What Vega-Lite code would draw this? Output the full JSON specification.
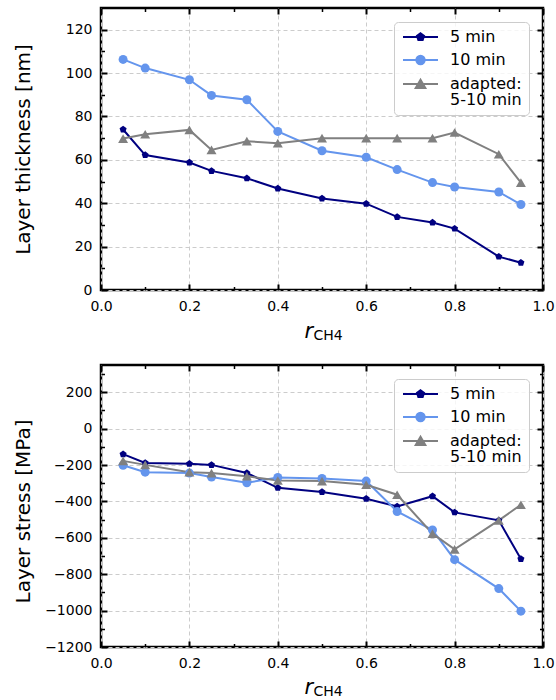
{
  "$schema": "https://vega.github.io/schema/vega-lite/v6.json",
  "padding": {"left": 11, "top": 5, "right": 5, "bottom": 5},
  "spacing": 75,
  "bounds": "flush",
  "config": {
    "font": "DejaVu Sans",
    "view": {"stroke": "black", "strokeWidth": 2.5},
    "axis": {
      "domain": false,
      "labelFont": "DejaVu Sans",
      "labelFontSize": 14,
      "labelColor": "black",
      "labelFlush": false,
      "labelOverlap": false,
      "titleFont": "DejaVu Sans",
      "titleColor": "black",
      "titleFontWeight": "normal",
      "tickColor": "black",
      "grid": false,
      "gridColor": "#cccccc",
      "gridDash": [4, 3],
      "gridWidth": 1
    },
    "legend": {
      "labelFont": "DejaVu Sans",
      "labelFontSize": 16,
      "labelColor": "black",
      "symbolSize": 144,
      "labelOffset": 33,
      "padding": 7,
      "rowPadding": 6,
      "strokeColor": "#cccccc",
      "fillColor": "rgba(255,255,255,0.8)",
      "cornerRadius": 4,
      "orient": "top-right",
      "offset": 14,
      "labelLimit": 300
    }
  },
  "datasets": {
    "thickness": [
      {"s": "5 min", "r": 0.05, "v": 74.0},
      {"s": "5 min", "r": 0.1, "v": 62.2},
      {"s": "5 min", "r": 0.2, "v": 58.8},
      {"s": "5 min", "r": 0.25, "v": 54.9},
      {"s": "5 min", "r": 0.33, "v": 51.5},
      {"s": "5 min", "r": 0.4, "v": 46.8},
      {"s": "5 min", "r": 0.5, "v": 42.2},
      {"s": "5 min", "r": 0.6, "v": 39.8},
      {"s": "5 min", "r": 0.67, "v": 33.7},
      {"s": "5 min", "r": 0.75, "v": 31.1},
      {"s": "5 min", "r": 0.8, "v": 28.3},
      {"s": "5 min", "r": 0.9, "v": 15.4},
      {"s": "5 min", "r": 0.95, "v": 12.6},
      {"s": "10 min", "r": 0.05, "v": 106.3},
      {"s": "10 min", "r": 0.1, "v": 102.3},
      {"s": "10 min", "r": 0.2, "v": 96.9},
      {"s": "10 min", "r": 0.25, "v": 89.7},
      {"s": "10 min", "r": 0.33, "v": 87.7},
      {"s": "10 min", "r": 0.4, "v": 73.1},
      {"s": "10 min", "r": 0.5, "v": 64.2},
      {"s": "10 min", "r": 0.6, "v": 61.2},
      {"s": "10 min", "r": 0.67, "v": 55.5},
      {"s": "10 min", "r": 0.75, "v": 49.5},
      {"s": "10 min", "r": 0.8, "v": 47.5},
      {"s": "10 min", "r": 0.9, "v": 45.2},
      {"s": "10 min", "r": 0.95, "v": 39.4},
      {"s": "adapted: 5-10 min", "r": 0.05, "v": 69.8},
      {"s": "adapted: 5-10 min", "r": 0.1, "v": 71.8},
      {"s": "adapted: 5-10 min", "r": 0.2, "v": 73.8},
      {"s": "adapted: 5-10 min", "r": 0.25, "v": 64.6},
      {"s": "adapted: 5-10 min", "r": 0.33, "v": 68.6},
      {"s": "adapted: 5-10 min", "r": 0.4, "v": 67.7},
      {"s": "adapted: 5-10 min", "r": 0.5, "v": 70.0},
      {"s": "adapted: 5-10 min", "r": 0.6, "v": 70.0},
      {"s": "adapted: 5-10 min", "r": 0.67, "v": 70.0},
      {"s": "adapted: 5-10 min", "r": 0.75, "v": 70.0},
      {"s": "adapted: 5-10 min", "r": 0.8, "v": 72.6},
      {"s": "adapted: 5-10 min", "r": 0.9, "v": 62.6},
      {"s": "adapted: 5-10 min", "r": 0.95, "v": 49.5}
    ],
    "stress": [
      {"s": "5 min", "r": 0.05, "v": -140},
      {"s": "5 min", "r": 0.1, "v": -188},
      {"s": "5 min", "r": 0.2, "v": -193},
      {"s": "5 min", "r": 0.25, "v": -199},
      {"s": "5 min", "r": 0.33, "v": -244},
      {"s": "5 min", "r": 0.4, "v": -325},
      {"s": "5 min", "r": 0.5, "v": -348},
      {"s": "5 min", "r": 0.6, "v": -385},
      {"s": "5 min", "r": 0.67, "v": -427},
      {"s": "5 min", "r": 0.75, "v": -371},
      {"s": "5 min", "r": 0.8, "v": -460},
      {"s": "5 min", "r": 0.9, "v": -504},
      {"s": "5 min", "r": 0.95, "v": -716},
      {"s": "10 min", "r": 0.05, "v": -201},
      {"s": "10 min", "r": 0.1, "v": -239},
      {"s": "10 min", "r": 0.2, "v": -244},
      {"s": "10 min", "r": 0.25, "v": -266},
      {"s": "10 min", "r": 0.33, "v": -297},
      {"s": "10 min", "r": 0.4, "v": -268},
      {"s": "10 min", "r": 0.5, "v": -274},
      {"s": "10 min", "r": 0.6, "v": -288},
      {"s": "10 min", "r": 0.67, "v": -455},
      {"s": "10 min", "r": 0.75, "v": -557},
      {"s": "10 min", "r": 0.8, "v": -720},
      {"s": "10 min", "r": 0.9, "v": -879},
      {"s": "10 min", "r": 0.95, "v": -1003},
      {"s": "adapted: 5-10 min", "r": 0.05, "v": -177},
      {"s": "adapted: 5-10 min", "r": 0.1, "v": -199},
      {"s": "adapted: 5-10 min", "r": 0.2, "v": -239},
      {"s": "adapted: 5-10 min", "r": 0.25, "v": -244},
      {"s": "adapted: 5-10 min", "r": 0.33, "v": -261},
      {"s": "adapted: 5-10 min", "r": 0.4, "v": -285},
      {"s": "adapted: 5-10 min", "r": 0.5, "v": -288},
      {"s": "adapted: 5-10 min", "r": 0.6, "v": -308},
      {"s": "adapted: 5-10 min", "r": 0.67, "v": -363},
      {"s": "adapted: 5-10 min", "r": 0.75, "v": -577},
      {"s": "adapted: 5-10 min", "r": 0.8, "v": -663},
      {"s": "adapted: 5-10 min", "r": 0.9, "v": -504},
      {"s": "adapted: 5-10 min", "r": 0.95, "v": -418}
    ]
  },
  "vconcat": [
    {
      "width": 442,
      "height": 282,
      "data": {"name": "thickness"},
      "resolve": {"axis": {"x": "independent", "y": "independent"}},
      "layer": [
        {
          "mark": {"type": "line", "strokeWidth": 2},
          "encoding": {
            "x": {"field": "r", "type": "quantitative", "scale": {"domain": [0, 1], "nice": false},
              "axis": {"orient": "bottom", "values": [0, 0.2, 0.4, 0.6, 0.8, 1], "format": ".1f", "grid": true, "ticks": true, "tickSize": -6, "tickWidth": 2, "labelPadding": 15,
                "title": "r", "titleFontStyle": "italic", "titleFontSize": 21, "titleX": 203, "titleY": 47, "titleAlign": "left", "titleBaseline": "alphabetic", "titleAngle": 0}},
            "y": {"field": "v", "type": "quantitative", "scale": {"domain": [0, 130], "nice": false},
              "axis": {"orient": "left", "values": [0, 20, 40, 60, 80, 100, 120], "format": "d", "grid": true, "ticks": true, "tickSize": -6, "tickWidth": 2, "labelPadding": 15,
                "title": "Layer thickness [nm]", "titleFontSize": 20, "titleX": -78, "titleY": 141, "titleAngle": -90, "titleAlign": "center", "titleBaseline": "middle"}},
            "color": {"field": "s", "type": "nominal",
              "scale": {"domain": ["5 min", "10 min", "adapted: 5-10 min"], "range": ["#000080", "#6495ED", "#808080"]},
              "legend": {"title": null,
                "labelExpr": "datum.label == 'adapted: 5-10 min' ? ['adapted:', '5-10 min'] : datum.label",
                "encode": {
                  "labels": {"update": {"lineHeight": {"value": 15.5}}},
                  "symbols": {"update": {
                    "shape": {"signal": "datum.value === '5 min' ? 'M-1,0H4.83M1.92,-0.62L2.51,-0.19L2.28,0.5L1.56,0.5L1.33,-0.19Z' : datum.value === '10 min' ? 'M-1,0H4.83M2.62,0A0.7,0.7 0 1,1 1.22,0A0.7,0.7 0 1,1 2.62,0Z' : 'M-1,0H4.83M1.92,-0.7L2.72,0.68L1.12,0.68Z'"},
                    "fill": {"signal": "datum.value === '5 min' ? '#000080' : datum.value === '10 min' ? '#6495ED' : '#808080'"},
                    "stroke": {"signal": "datum.value === '5 min' ? '#000080' : datum.value === '10 min' ? '#6495ED' : '#808080'"},
                    "strokeWidth": {"value": 2},
                    "size": {"value": 144},
                    "opacity": {"value": 1}
                  }}
                }}}
          }
        },
        {
          "transform": [{"filter": "datum.s === '5 min'"}],
          "mark": {"type": "point", "filled": true, "opacity": 1, "shape": "M0,-1L0.951,-0.309L0.588,0.809L-0.588,0.809L-0.951,-0.309Z", "size": 55},
          "encoding": {
            "x": {"field": "r", "type": "quantitative", "scale": {"domain": [0, 1], "nice": false},
              "axis": {"orient": "top", "values": [0, 0.2, 0.4, 0.6, 0.8, 1], "labels": false, "grid": false, "tickSize": -6, "tickWidth": 2, "title": null}},
            "y": {"field": "v", "type": "quantitative", "scale": {"domain": [0, 130], "nice": false},
              "axis": {"orient": "right", "values": [0, 20, 40, 60, 80, 100, 120], "labels": false, "grid": false, "tickSize": -6, "tickWidth": 2, "title": null}},
            "color": {"field": "s", "type": "nominal",
              "scale": {"domain": ["5 min", "10 min", "adapted: 5-10 min"], "range": ["#000080", "#6495ED", "#808080"]}, "legend": null}
          }
        },
        {
          "transform": [{"filter": "datum.s === '10 min'"}],
          "mark": {"type": "point", "filled": true, "opacity": 1, "shape": "circle", "size": 81},
          "encoding": {
            "x": {"field": "r", "type": "quantitative", "scale": {"domain": [0, 1], "nice": false},
              "axis": {"orient": "bottom", "values": [0.1, 0.3, 0.5, 0.7, 0.9], "labels": false, "grid": false, "tickSize": -3.5, "tickWidth": 1.5,
                "title": "CH4", "titleFontSize": 14, "titleX": 212, "titleY": 49.5, "titleAlign": "left", "titleBaseline": "alphabetic", "titleAngle": 0}},
            "y": {"field": "v", "type": "quantitative", "scale": {"domain": [0, 130], "nice": false},
              "axis": {"orient": "left", "values": [10, 30, 50, 70, 90, 110], "labels": false, "grid": false, "tickSize": -3.5, "tickWidth": 1.5, "title": null}},
            "color": {"field": "s", "type": "nominal",
              "scale": {"domain": ["5 min", "10 min", "adapted: 5-10 min"], "range": ["#000080", "#6495ED", "#808080"]}, "legend": null}
          }
        },
        {
          "transform": [{"filter": "datum.s === 'adapted: 5-10 min'"}],
          "mark": {"type": "point", "filled": true, "opacity": 1, "shape": "triangle-up", "size": 100},
          "encoding": {
            "x": {"field": "r", "type": "quantitative", "scale": {"domain": [0, 1], "nice": false},
              "axis": {"orient": "top", "values": [0.1, 0.3, 0.5, 0.7, 0.9], "labels": false, "grid": false, "tickSize": -3.5, "tickWidth": 1.5, "title": null}},
            "y": {"field": "v", "type": "quantitative", "scale": {"domain": [0, 130], "nice": false},
              "axis": {"orient": "right", "values": [10, 30, 50, 70, 90, 110], "labels": false, "grid": false, "tickSize": -3.5, "tickWidth": 1.5, "title": null}},
            "color": {"field": "s", "type": "nominal",
              "scale": {"domain": ["5 min", "10 min", "adapted: 5-10 min"], "range": ["#000080", "#6495ED", "#808080"]}, "legend": null}
          }
        }
      ]
    },
    {
      "width": 442,
      "height": 282,
      "data": {"name": "stress"},
      "resolve": {"axis": {"x": "independent", "y": "independent"}},
      "layer": [
        {
          "mark": {"type": "line", "strokeWidth": 2},
          "encoding": {
            "x": {"field": "r", "type": "quantitative", "scale": {"domain": [0, 1], "nice": false},
              "axis": {"orient": "bottom", "values": [0, 0.2, 0.4, 0.6, 0.8, 1], "format": ".1f", "grid": true, "ticks": true, "tickSize": -6, "tickWidth": 2, "labelPadding": 15,
                "title": "r", "titleFontStyle": "italic", "titleFontSize": 21, "titleX": 203, "titleY": 46, "titleAlign": "left", "titleBaseline": "alphabetic", "titleAngle": 0}},
            "y": {"field": "v", "type": "quantitative", "scale": {"domain": [-1200, 350], "nice": false, "zero": false},
              "axis": {"orient": "left", "values": [-1200, -1000, -800, -600, -400, -200, 0, 200], "format": "d", "grid": true, "ticks": true, "tickSize": -6, "tickWidth": 2, "labelPadding": 15,
                "title": "Layer stress [MPa]", "titleFontSize": 20, "titleX": -78, "titleY": 146, "titleAngle": -90, "titleAlign": "center", "titleBaseline": "middle"}},
            "color": {"field": "s", "type": "nominal",
              "scale": {"domain": ["5 min", "10 min", "adapted: 5-10 min"], "range": ["#000080", "#6495ED", "#808080"]},
              "legend": {"title": null,
                "labelExpr": "datum.label == 'adapted: 5-10 min' ? ['adapted:', '5-10 min'] : datum.label",
                "encode": {
                  "labels": {"update": {"lineHeight": {"value": 15.5}}},
                  "symbols": {"update": {
                    "shape": {"signal": "datum.value === '5 min' ? 'M-1,0H4.83M1.92,-0.62L2.51,-0.19L2.28,0.5L1.56,0.5L1.33,-0.19Z' : datum.value === '10 min' ? 'M-1,0H4.83M2.62,0A0.7,0.7 0 1,1 1.22,0A0.7,0.7 0 1,1 2.62,0Z' : 'M-1,0H4.83M1.92,-0.7L2.72,0.68L1.12,0.68Z'"},
                    "fill": {"signal": "datum.value === '5 min' ? '#000080' : datum.value === '10 min' ? '#6495ED' : '#808080'"},
                    "stroke": {"signal": "datum.value === '5 min' ? '#000080' : datum.value === '10 min' ? '#6495ED' : '#808080'"},
                    "strokeWidth": {"value": 2},
                    "size": {"value": 144},
                    "opacity": {"value": 1}
                  }}
                }}}
          }
        },
        {
          "transform": [{"filter": "datum.s === '5 min'"}],
          "mark": {"type": "point", "filled": true, "opacity": 1, "shape": "M0,-1L0.951,-0.309L0.588,0.809L-0.588,0.809L-0.951,-0.309Z", "size": 55},
          "encoding": {
            "x": {"field": "r", "type": "quantitative", "scale": {"domain": [0, 1], "nice": false},
              "axis": {"orient": "top", "values": [0, 0.2, 0.4, 0.6, 0.8, 1], "labels": false, "grid": false, "tickSize": -6, "tickWidth": 2, "title": null}},
            "y": {"field": "v", "type": "quantitative", "scale": {"domain": [-1200, 350], "nice": false, "zero": false},
              "axis": {"orient": "right", "values": [-1200, -1000, -800, -600, -400, -200, 0, 200], "labels": false, "grid": false, "tickSize": -6, "tickWidth": 2, "title": null}},
            "color": {"field": "s", "type": "nominal",
              "scale": {"domain": ["5 min", "10 min", "adapted: 5-10 min"], "range": ["#000080", "#6495ED", "#808080"]}, "legend": null}
          }
        },
        {
          "transform": [{"filter": "datum.s === '10 min'"}],
          "mark": {"type": "point", "filled": true, "opacity": 1, "shape": "circle", "size": 81},
          "encoding": {
            "x": {"field": "r", "type": "quantitative", "scale": {"domain": [0, 1], "nice": false},
              "axis": {"orient": "bottom", "values": [0.1, 0.3, 0.5, 0.7, 0.9], "labels": false, "grid": false, "tickSize": -3.5, "tickWidth": 1.5,
                "title": "CH4", "titleFontSize": 14, "titleX": 212, "titleY": 48.5, "titleAlign": "left", "titleBaseline": "alphabetic", "titleAngle": 0}},
            "y": {"field": "v", "type": "quantitative", "scale": {"domain": [-1200, 350], "nice": false, "zero": false},
              "axis": {"orient": "left", "values": [-1100, -900, -700, -500, -300, -100, 100, 300], "labels": false, "grid": false, "tickSize": -3.5, "tickWidth": 1.5, "title": null}},
            "color": {"field": "s", "type": "nominal",
              "scale": {"domain": ["5 min", "10 min", "adapted: 5-10 min"], "range": ["#000080", "#6495ED", "#808080"]}, "legend": null}
          }
        },
        {
          "transform": [{"filter": "datum.s === 'adapted: 5-10 min'"}],
          "mark": {"type": "point", "filled": true, "opacity": 1, "shape": "triangle-up", "size": 100},
          "encoding": {
            "x": {"field": "r", "type": "quantitative", "scale": {"domain": [0, 1], "nice": false},
              "axis": {"orient": "top", "values": [0.1, 0.3, 0.5, 0.7, 0.9], "labels": false, "grid": false, "tickSize": -3.5, "tickWidth": 1.5, "title": null}},
            "y": {"field": "v", "type": "quantitative", "scale": {"domain": [-1200, 350], "nice": false, "zero": false},
              "axis": {"orient": "right", "values": [-1100, -900, -700, -500, -300, -100, 100, 300], "labels": false, "grid": false, "tickSize": -3.5, "tickWidth": 1.5, "title": null}},
            "color": {"field": "s", "type": "nominal",
              "scale": {"domain": ["5 min", "10 min", "adapted: 5-10 min"], "range": ["#000080", "#6495ED", "#808080"]}, "legend": null}
          }
        }
      ]
    }
  ],
  "resolve": {
    "scale": {"color": "independent"},
    "legend": {"color": "independent"}
  }
}
